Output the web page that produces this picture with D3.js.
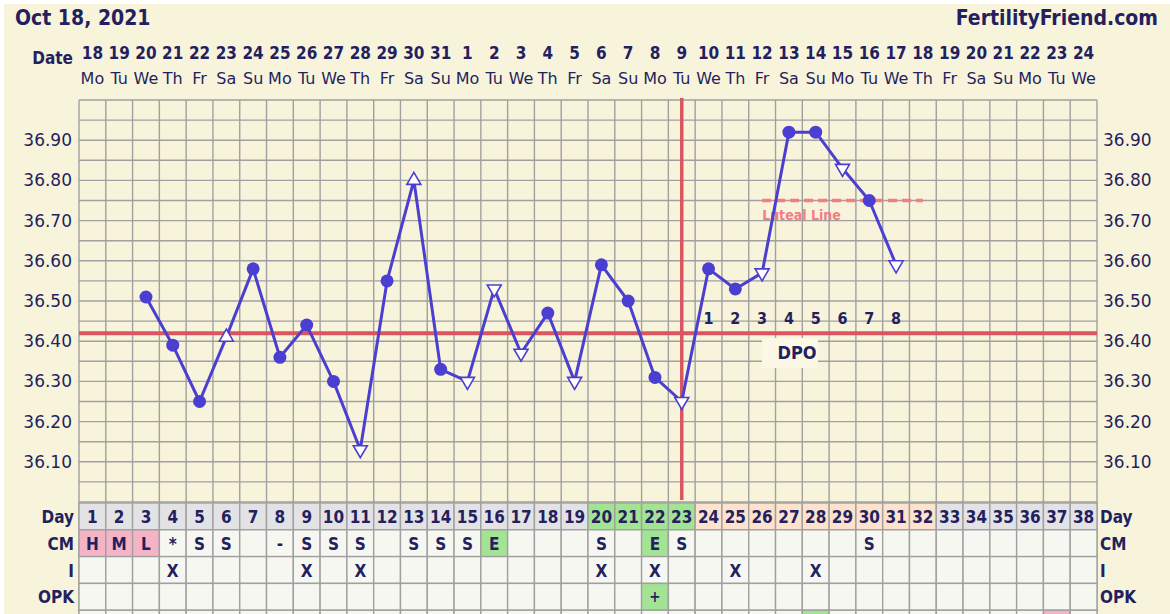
<!DOCTYPE html>
<html lang="en">
<head>
<meta charset="UTF-8">
<title>Fertility chart</title>
<script src="https://d3js.org/d3.v7.min.js"></script>
<style>
body {margin: 0; background: white;}
svg {display: block;}
text {fill: #241f5e;}
.cond {font-family: "DejaVu Sans Condensed", "DejaVu Sans", sans-serif; font-weight: bold;}
.reg {font-family: "DejaVu Sans", sans-serif;}
</style>
</head>
<body>
<svg width="1170" height="614"></svg>
<script>
// chart values
const dates = [18,19,20,21,22,23,24,25,26,27,28,29,30,31,1,2,3,4,5,6,7,8,9,10,11,12,13,14,15,16,17,18,19,20,21,22,23,24];
const weekdays = ["Mo","Tu","We","Th","Fr","Sa","Su","Mo","Tu","We","Th","Fr","Sa","Su","Mo","Tu","We","Th","Fr","Sa","Su",
                  "Mo","Tu","We","Th","Fr","Sa","Su","Mo","Tu","We","Th","Fr","Sa","Su","Mo","Tu","We"];
const temps = [null,null,36.51,36.39,36.25,36.41,36.58,36.36,36.44,36.30,36.13,36.55,36.80,36.33,36.30,36.53,36.37,36.47,36.30,
               36.59,36.50,36.31,36.25,36.58,36.53,36.57,36.92,36.92,36.83,36.75,36.59];
const marks = ["","","c","c","c","u","c","c","c","c","d","c","u","c","d","d","d","c","d","c","c","c","d","c","c","d","c","c","d","c","d"];
const yTicks = [36.10,36.20,36.30,36.40,36.50,36.60,36.70,36.80,36.90];
const coverline = 36.42;
const ovulationDay = 23;
const lutealLine = {from: 26, to: 32, value: 36.75};
const dpo = [1,2,3,4,5,6,7,8];
const cm = {1:"H",2:"M",3:"L",4:"*",5:"S",6:"S",8:"-",9:"S",10:"S",11:"S",13:"S",14:"S",15:"S",16:"E",20:"S",22:"E",23:"S",30:"S"};
const cmPink = [1,2,3], cmGreen = [16,22];
const intercourse = [4,9,11,20,22,25,28];
const opk = {22:"+"};
const dayGreen = [20,21,22,23], dayPeach = [24,25,26,27,28,29,30,31,32];
const nextRowGreen = [28], nextRowPink = [37];

const days = d3.range(1, 39);
const svg = d3.select("svg");
const x = d3.scaleLinear().domain([0.5, 38.5]).range([79, 1097]);
const y = d3.scaleLinear().domain([36, 37]).range([502, 100]);
const cw = x(2) - x(1);
const blue = "#4a3fd0", red = "#db5560", grid = "#a0a0a0";

svg.append("rect").attr("x",4).attr("y",4).attr("width",1166).attr("height",610).attr("fill","#f8f4dc");

// header
svg.append("text").attr("class","cond").attr("x",15).attr("y",25).style("font-size","21px").text("Oct 18, 2021");
svg.append("text").attr("class","cond").attr("x",1158).attr("y",25).attr("text-anchor","end").style("font-size","21px").text("FertilityFriend.com");
svg.append("text").attr("class","cond").attr("x",73).attr("y",64).attr("text-anchor","end").style("font-size","17px").text("Date");
svg.selectAll(".dnum").data(days).join("text").attr("class","cond")
  .attr("x", d => x(d)).attr("y",59).attr("text-anchor","middle").style("font-size","17px").text(d => dates[d-1]);
svg.selectAll(".wday").data(days).join("text").attr("class","reg")
  .attr("x", d => x(d)).attr("y",84).attr("text-anchor","middle").style("font-size","16px").text(d => weekdays[d-1]);

// grid
const g = svg.append("g");
g.selectAll(".h").data(d3.range(0, 21)).join("line")
  .attr("x1", x(0.5)).attr("x2", x(38.5)).attr("y1", d => y(36 + d*0.05)).attr("y2", d => y(36 + d*0.05))
  .attr("stroke", grid).attr("stroke-width", 1.4);
g.selectAll(".v").data(d3.range(0, 39)).join("line")
  .attr("x1", d => x(d+0.5)).attr("x2", d => x(d+0.5)).attr("y1", y(37)).attr("y2", 614)
  .attr("stroke", grid).attr("stroke-width", 1.4);

// y labels
svg.selectAll(".yl").data(yTicks).join("text").attr("class","reg")
  .attr("x",72).attr("y", d => y(d)+6).attr("text-anchor","end").style("font-size","17px").text(d => d.toFixed(2));
svg.selectAll(".yr").data(yTicks).join("text").attr("class","reg")
  .attr("x",1103).attr("y", d => y(d)+6).style("font-size","17px").text(d => d.toFixed(2));

// table rows
const rowTop = [503, 529.8, 556.6, 583.4, 610.2];
const rowH = 26.8;
function cellFill(row, d) {
  if (row === 0) return dayGreen.includes(d) ? "#a3e394" : dayPeach.includes(d) ? "#fde2cc" : "#e3e3e6";
  if (row === 1) return cmPink.includes(d) ? "#f4b4c6" : cmGreen.includes(d) ? "#a3e394" : "#f7f7f1";
  if (row === 3) return opk[d] ? "#a3e394" : "#f7f7f1";
  if (row === 4) return nextRowGreen.includes(d) ? "#a3e394" : nextRowPink.includes(d) ? "#f4b4c6" : "#f7f7f1";
  return "#f7f7f1";
}
[0,1,2,3,4].forEach(r => {
  svg.append("g").selectAll("rect").data(days).join("rect")
    .attr("x", d => x(d-0.5)).attr("y", rowTop[r]).attr("width", cw).attr("height", rowH)
    .attr("fill", d => cellFill(r, d)).attr("stroke", grid).attr("stroke-width", 1.4);
});
svg.selectAll(".dayn").data(days).join("text").attr("class","cond")
  .attr("x", d => x(d)).attr("y", rowTop[0]+20).attr("text-anchor","middle").style("font-size","17px").text(d => d);
svg.selectAll(".cm").data(Object.keys(cm).map(Number)).join("text").attr("class","cond")
  .attr("x", d => x(d)).attr("y", rowTop[1]+20).attr("text-anchor","middle").style("font-size","17px").text(d => cm[d]);
svg.selectAll(".ix").data(intercourse).join("text").attr("class","cond")
  .attr("x", d => x(d)).attr("y", rowTop[2]+20).attr("text-anchor","middle").style("font-size","17px").text("X");
svg.selectAll(".opk").data(Object.keys(opk).map(Number)).join("text").attr("class","cond")
  .attr("x", d => x(d)).attr("y", rowTop[3]+19).attr("text-anchor","middle").style("font-size","15px").text(d => opk[d]);
const rowLabels = ["Day","CM","I","OPK"];
rowLabels.forEach((t, i) => {
  svg.append("text").attr("class","cond").attr("x",74).attr("y",rowTop[i]+20).attr("text-anchor","end").style("font-size","17px").text(t);
  svg.append("text").attr("class","cond").attr("x",1100).attr("y",rowTop[i]+20).style("font-size","17px").text(t);
});

// DPO box and labels
svg.append("rect").attr("x", 762).attr("y", 338).attr("width", 56).attr("height", 30).attr("fill", "#fbf8e6");
svg.append("text").attr("class","cond").attr("x",797).attr("y",359).attr("text-anchor","middle").style("font-size","18px").text("DPO");
svg.selectAll(".dpo").data(dpo).join("text").attr("class","cond")
  .attr("x", d => x(ovulationDay + d)).attr("y", 324).attr("text-anchor","middle").style("font-size","16px").text(d => d);

// coverline and ovulation line
svg.append("line").attr("x1", x(0.5)).attr("x2", x(38.5)).attr("y1", y(coverline)).attr("y2", y(coverline))
  .attr("stroke", red).attr("stroke-width", 4);
svg.append("line").attr("x1", x(ovulationDay)).attr("x2", x(ovulationDay)).attr("y1", y(37)-2).attr("y2", y(36)-2)
  .attr("stroke", red).attr("stroke-width", 3.5);

// luteal line
svg.append("line").attr("x1", x(lutealLine.from)).attr("x2", x(lutealLine.to))
  .attr("y1", y(lutealLine.value)).attr("y2", y(lutealLine.value))
  .attr("stroke", "#f47c83").attr("stroke-width", 3.5).attr("stroke-dasharray", "9,5");
svg.append("text").attr("class","cond").attr("x", x(lutealLine.from)).attr("y", y(lutealLine.value)+19)
  .style("font-size","14px").style("fill","#f47c83").text("Luteal Line");

// temperature line
const pts = temps.map((t, i) => ({day: i+1, t: t, m: marks[i]})).filter(p => p.t !== null);
svg.append("path").datum(pts)
  .attr("d", d3.line().x(p => x(p.day)).y(p => y(p.t)))
  .attr("fill", "none").attr("stroke", blue).attr("stroke-width", 3).attr("stroke-linejoin", "round");
svg.selectAll(".dot").data(pts.filter(p => p.m === "c")).join("circle")
  .attr("cx", p => x(p.day)).attr("cy", p => y(p.t)).attr("r", 6.5).attr("fill", blue);
svg.selectAll(".tri").data(pts.filter(p => p.m !== "c")).join("path")
  .attr("d", p => {
    const cx = x(p.day), cy = y(p.t);
    return p.m === "u"
      ? `M${cx},${cy-8}L${cx+7},${cy+4}L${cx-7},${cy+4}Z`
      : `M${cx-7},${cy-4}L${cx+7},${cy-4}L${cx},${cy+8}Z`;
  })
  .attr("fill", "white").attr("stroke", blue).attr("stroke-width", 1.6);
</script>
</body>
</html>
